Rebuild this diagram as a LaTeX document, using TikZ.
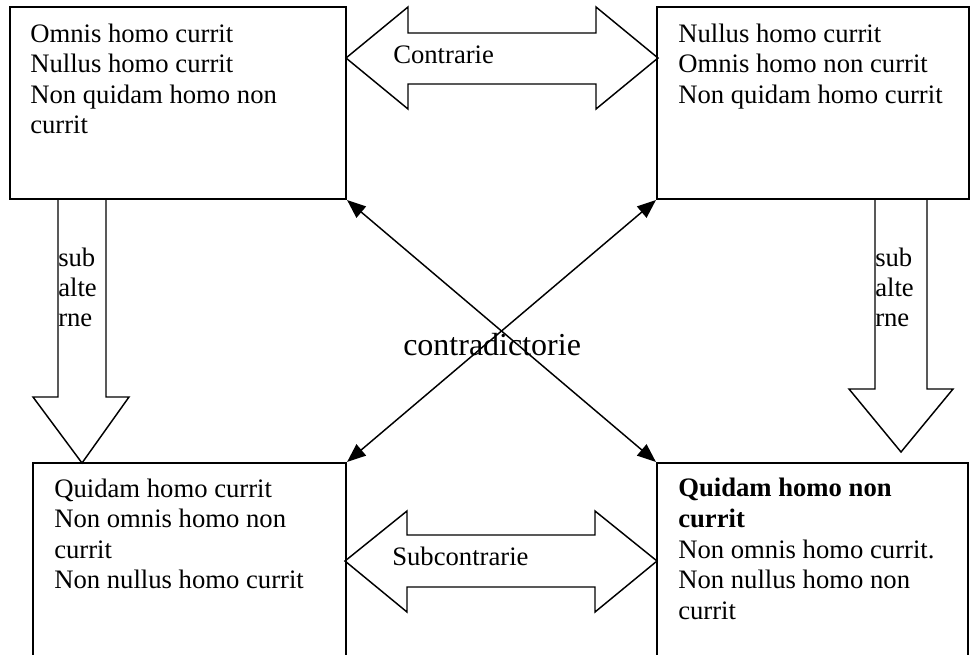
\documentclass[tikz,border=0pt]{standalone}
\usepackage{fontspec}
\setmainfont{Liberation Serif}
\usetikzlibrary{arrows.meta}
\begin{document}
\begin{tikzpicture}[x=0.75pt,y=-0.75pt,
  box/.style={draw, line width=1.6pt, rectangle, inner sep=0pt},
  blockarrow/.style={draw, line width=1.1pt, line join=miter},
  % multi-line texts are placed by the baseline of their last line
  txt/.style={anchor=base west, align=left, inner sep=0pt,
    font=\fontsize{20}{22.9}\selectfont},
  contra/.style={line width=1.1pt, {Triangle[length=14pt,width=11pt]}-{Triangle[length=14pt,width=11pt]}}]
\clip (0,0) rectangle (971,654);
\fill[white] (0,0) rectangle (971,654);

% the four corner boxes of the square
\node[box, minimum width=252pt, minimum height=144pt] (tl) at (178,103) {};
\node[box, minimum width=234pt, minimum height=144pt] (tr) at (813,103) {};
\node[box, minimum width=234.75pt, minimum height=177.75pt] (bl) at (189.5,581.5) {};
\node[box, minimum width=233.25pt, minimum height=177.75pt] (br) at (812.5,581.5) {};

% propositions in each box
\node[txt] (tltext) at (30,133.6) {Omnis homo currit\\Nullus homo currit\\Non quidam homo non\\currit};
\node[txt] (trtext) at (678,103.1) {Nullus homo currit\\Omnis homo non currit\\Non quidam homo currit};
\node[txt] (bltext) at (54,588.6) {Quidam homo currit\\Non omnis homo non\\currit\\Non nullus homo currit};
\node[txt] (brtext) at (678,619.1) {\textbf{Quidam homo non}\\\textbf{currit}\\Non omnis homo currit.\\Non nullus homo non\\currit};

% contrarie: double block arrow between the upper boxes
\draw[blockarrow] (346,58) -- (408,7) -- (408,33) -- (596,33) -- (596,7) -- (658,58)
  -- (596,109) -- (596,84) -- (408,84) -- (408,109) -- cycle;
\node[txt] (contrarie) at (393,63) {Contrarie};

% subcontrarie: double block arrow between the lower boxes
\draw[blockarrow] (345,561) -- (407,511) -- (407,535) -- (595,535) -- (595,511) -- (657,561)
  -- (595,612) -- (595,587) -- (407,587) -- (407,612) -- cycle;
\node[txt] (subcontrarie) at (392,565) {Subcontrarie};

% subalterne: downward block arrows
\draw[blockarrow] (58,199) -- (58,397) -- (33,397) -- (82,463) -- (129,397) -- (106,397) -- (106,199);
\node[txt, font=\fontsize{20}{22.5}\selectfont] (subl) at (58,326) {sub\\alte\\rne};
\draw[blockarrow] (875,199) -- (875,389) -- (849,389) -- (901,452) -- (953,389) -- (927,389) -- (927,199);
\node[txt, font=\fontsize{20}{22.5}\selectfont] (subr) at (875,326) {sub\\alte\\rne};

% contradictorie: crossing diagonals
\draw[contra] (tl.south east) -- (br.north west);
\draw[contra] (tr.south west) -- (bl.north east);
\node[anchor=base west, inner sep=0pt, font=\fontsize{24}{28}\selectfont] (contradictorie) at (403,355) {contradictorie};
\end{tikzpicture}
\end{document}
